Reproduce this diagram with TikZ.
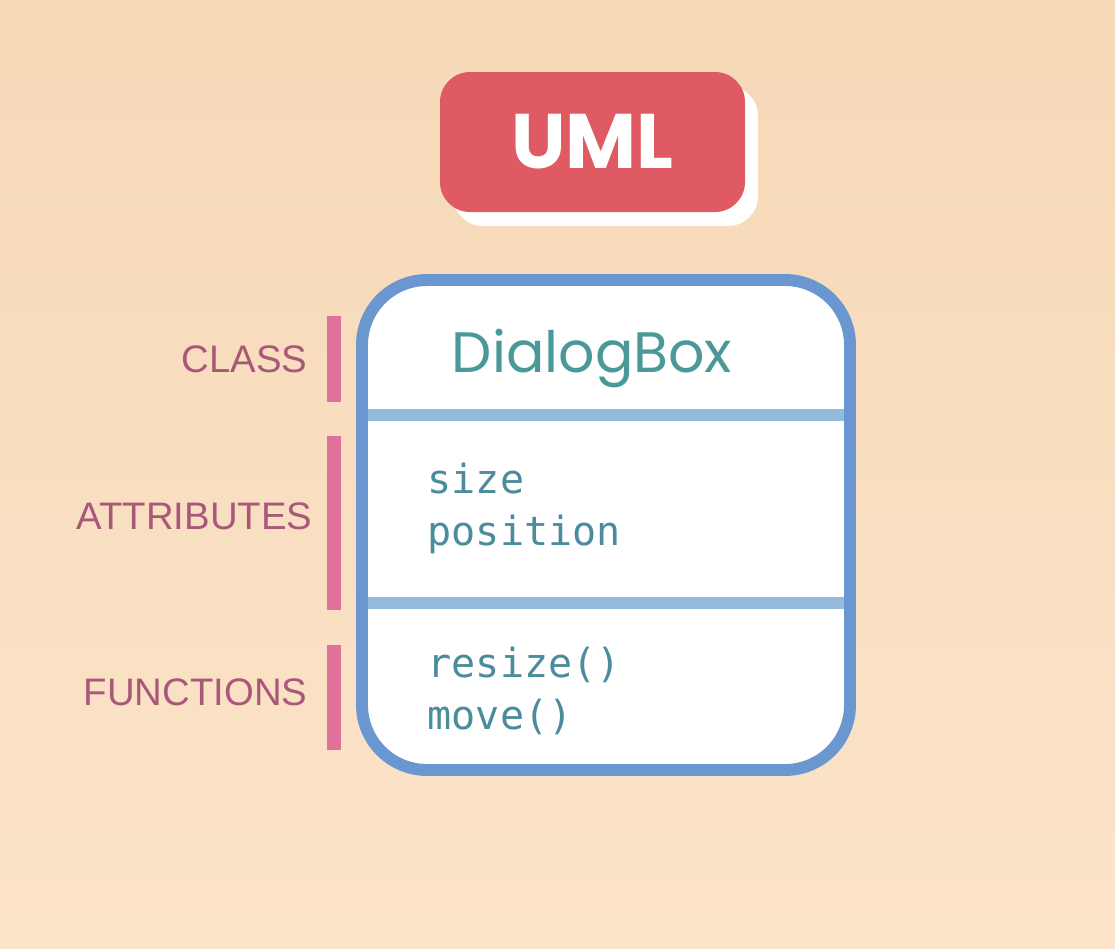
\documentclass[tikz,border=0pt]{standalone}
\usepackage{fontspec}
\setmainfont{Liberation Sans}
\newfontfamily\popfont{Poppins}
\newfontfamily\monofont{DejaVu Sans Mono}
\definecolor{bgtop}{HTML}{F5D8B6}
\definecolor{bgbot}{HTML}{FCE4CA}
\definecolor{umlred}{HTML}{DF5A62}
\definecolor{boxblue}{HTML}{6A97CF}
\definecolor{divblue}{HTML}{96BADD}
\definecolor{teal}{HTML}{4B9898}
\definecolor{codeteal}{HTML}{4A8C9C}
\definecolor{labelc}{HTML}{A9587A}
\definecolor{barpink}{HTML}{E07299}
\tikzset{
  lbl/.style={anchor=east, text=labelc, font=\fontsize{10.9}{13}\selectfont, inner sep=0pt},
  bar/.style={fill=barpink, draw=none},
  code/.style={anchor=base west, text=codeteal, font=\monofont\fontsize{11.4}{14}\selectfont, inner sep=0pt},
  divider/.style={draw=divblue, line width=3.4pt},
}
\begin{document}
\begin{tikzpicture}[x=0.01cm,y=-0.01cm]
\shade[top color=bgtop, bottom color=bgbot] (0,0) rectangle (1115,948);
\useasboundingbox (0,0) rectangle (1115,948);
% UML title
\fill[white, rounded corners=0.3cm] (453,86) rectangle (758,226);
\fill[umlred, rounded corners=0.3cm] (440,72) rectangle (745,212);
\node[text=white, font=\popfont\bfseries\fontsize{22}{25}\selectfont, inner sep=0pt] (uml) at (592.5,142) {UML};
% class box
\fill[white, rounded corners=0.65cm] (362,280) rectangle (850,770);
\draw[divider] (365,415) -- (847,415);
\draw[divider] (365,603) -- (847,603);
\draw[boxblue, line width=3.4pt, rounded corners=0.65cm] (362,280) rectangle (850,770);
\node[text=teal, font=\popfont\fontsize{16.2}{19}\selectfont, anchor=base, inner sep=0pt] (name) at (592,372) {DialogBox};
\node[code] (a1) at (427,493) {size};
\node[code] (a2) at (427,545) {position};
\node[code] (f1) at (427,677) {resize()};
\node[code] (f2) at (427,729) {move()};
% labels and bars
\fill[bar] (327,316) rectangle (341,402);
\fill[bar] (327,436) rectangle (341,610);
\fill[bar] (327,645) rectangle (341,750);
\node[lbl] (lclass) at (308,359) {CLASS};
\node[lbl] (lattr) at (313,516) {ATTRIBUTES};
\node[lbl] (lfunc) at (308,692) {FUNCTIONS};
\end{tikzpicture}
\end{document}
